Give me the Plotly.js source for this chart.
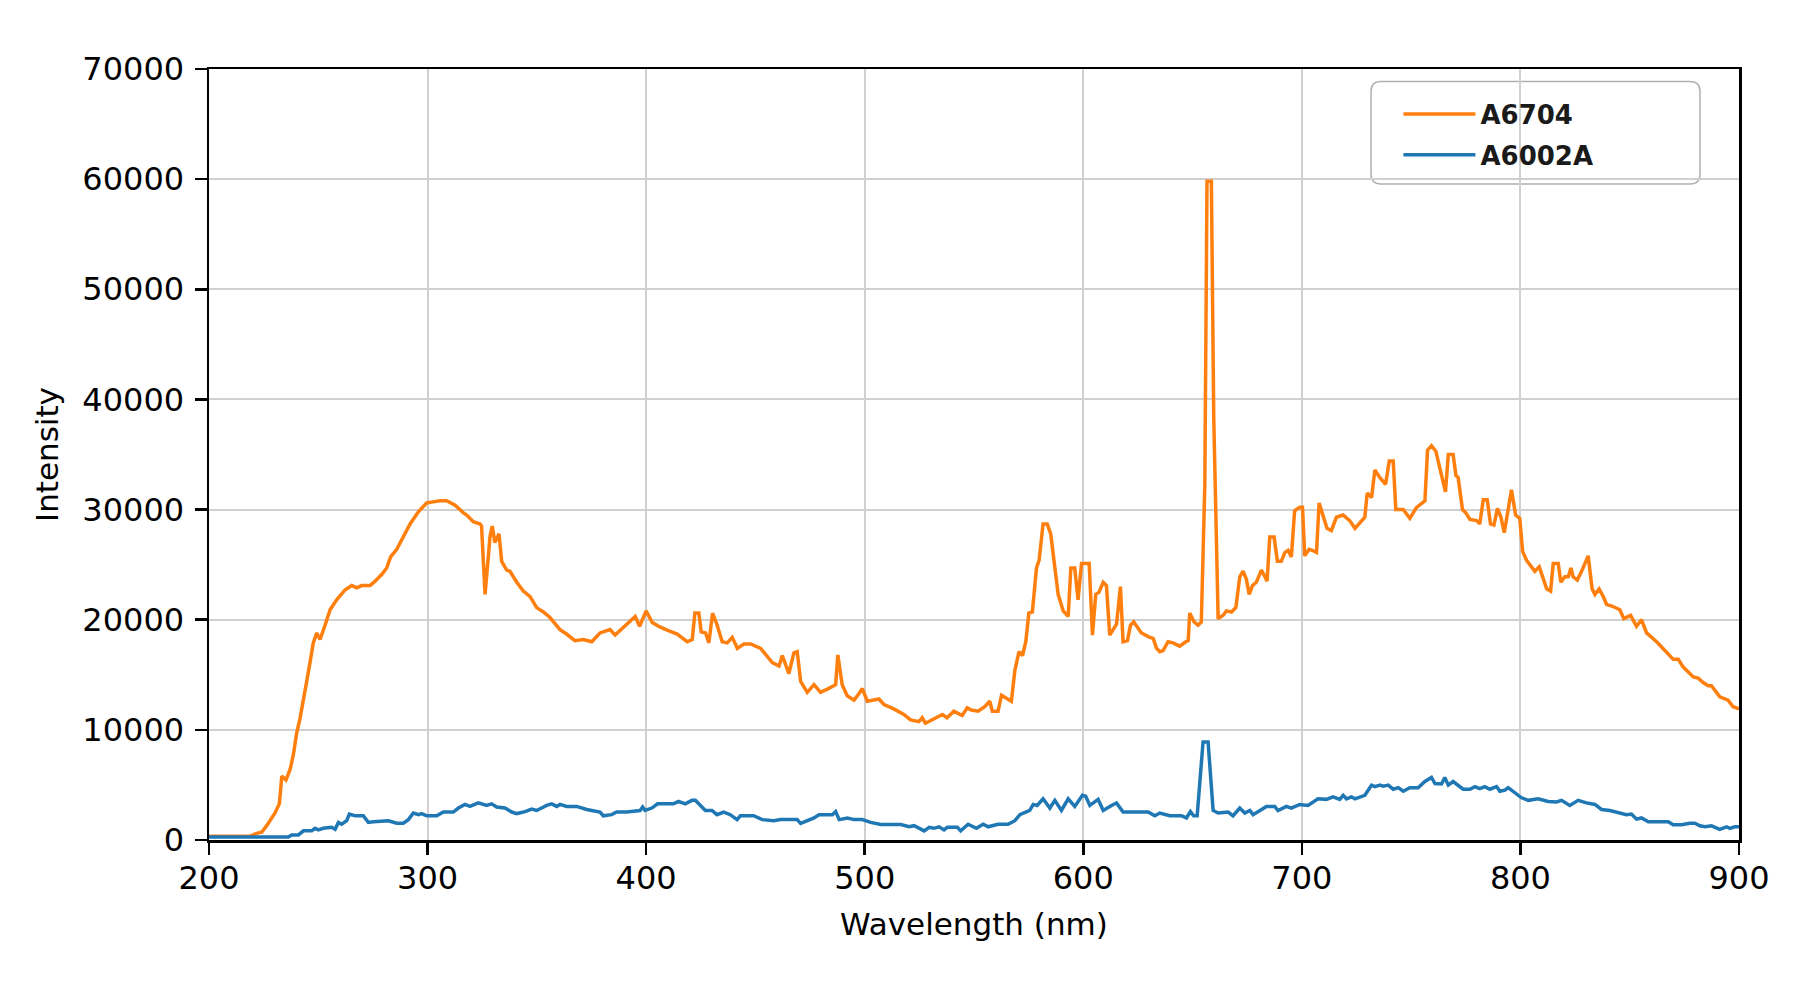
<!DOCTYPE html>
<html>
<head>
<meta charset="utf-8">
<script src="https://cdn.plot.ly/plotly-3.0.1.min.js"></script>
<style>
  html, body { margin: 0; padding: 0; background: #ffffff; }
  #chart { width: 1800px; height: 1000px; }
</style>
</head>
<body>
<div id="chart"></div>
<script>
// ---- Data ----
const seriesNames = ["A6704", "A6002A"];

const wavelengthA6704 = [
  200, 210, 218.8, 221.8, 224.1, 226.4, 230.2, 232.2, 233.3, 235.2, 237.1, 238.6, 240.1, 241.6, 243.2, 244.7,
  246.2, 247.7, 249.3, 250.8, 253.1, 255.4, 258.4, 262.2, 265.3, 267.6, 269.9, 273.7, 276, 279, 281.3, 283.1,
  285.9, 288.9, 292, 295.8, 299.6, 302.6, 305.7, 308.7, 312.6, 316.4, 317.9, 320.9, 324, 324.7, 326.3, 328.6,
  329.6, 330.8, 332.7, 333.9, 336.2, 337.7, 340.8, 343.8, 346.9, 349.9, 353, 356, 358.3, 360.6, 363.6, 367.4,
  371.3, 375.1, 378.9, 383.5, 385.8, 389.7, 395, 397, 400, 402.8, 405.8, 409.6, 414.2, 418.8, 421.1, 422.3,
  424.1, 425.2, 427.2, 428.7, 430.4, 432.5, 434.8, 437.1, 439.4, 441.7, 444.7, 447.8, 452.4, 457.7, 460.8, 462.3,
  465.3, 467.6, 469.1, 470.7, 473.7, 476.8, 479.8, 482.9, 486.7, 487.7, 489.7, 492, 495.1, 497.4, 498.9, 501.2,
  504.2, 506.5, 508.8, 513.3, 517.9, 521, 524.8, 526.3, 527.8, 531.7, 535.5, 537.7, 540.8, 544.6, 546.9, 548.8,
  551.9, 554.9, 557.2, 558.4, 561, 562.6, 567.1, 568.7, 570.6, 572.2, 573.7, 575.1, 576.7, 578.6, 579.8, 581.6,
  583.5, 585.1, 587, 588.5, 590.8, 593.1, 594.3, 596.1, 597.6, 599.2, 602.7, 604.2, 605.7, 607.2, 609.1, 610.6,
  612.1, 615.2, 617, 618.2, 620.2, 621.6, 623.1, 626.6, 630.4, 632, 633.5, 635, 636.5, 638.8, 641.1, 644.1,
  646.9, 648, 648.7, 650.7, 652.5, 654, 655.6, 656.6, 658.6, 659.7, 661.7, 664, 665.5, 667.8, 669.8, 671.6,
  673.1, 674.6, 675.9, 677.4, 679.2, 681.5, 682.6, 684.1, 685.3, 687.3, 688.8, 690.6, 692.2, 693.7, 695.2, 696.7,
  699, 700.3, 701.3, 703.3, 704.8, 706.7, 707.9, 709.7, 711.5, 713.5, 715.8, 718.9, 721.9, 724.3, 728.8, 729.9,
  731.9, 733.4, 735.7, 738.3, 740, 741.8, 743, 746.4, 749.4, 752.5, 756.3, 757.5, 759.3, 761.3, 763.5, 765.7,
  767, 769.2, 770.5, 771.5, 773.5, 775, 776.9, 779.9, 781.4, 783, 784.8, 786.3, 787.9, 789.5, 791.1, 792.6,
  795.9, 797.8, 799.7, 801, 802.8, 805.1, 806.6, 808.6, 810.7, 812, 813.8, 815, 817.3, 818.5, 820.3, 821.9,
  823.1, 824.1, 826, 828, 831, 832.8, 834.1, 836, 837.9, 839.4, 842.4, 845.5, 847.3, 850.4, 853.1, 855.4,
  857.7, 862.3, 866.1, 869.9, 872.2, 874.5, 879.1, 881.3, 883.6, 885.9, 887.4, 891.2, 895, 897.3, 900
];
const intensityA6704 = [
  350, 350, 350, 600, 700, 1300, 2450, 3300, 5800, 5450, 6400, 7750, 9700, 11000, 12600, 14400,
  16100, 17900, 18800, 18200, 19500, 20900, 21800, 22700, 23100, 22900, 23100, 23100, 23500, 24100, 24700, 25700,
  26400, 27600, 28700, 29800, 30600, 30700, 30800, 30800, 30400, 29700, 29500, 28900, 28700, 28500, 22300, 27600,
  28500, 27000, 27800, 25300, 24500, 24400, 23400, 22600, 22100, 21100, 20700, 20200, 19600, 19100, 18700, 18100,
  18200, 18000, 18800, 19100, 18600, 19300, 20300, 19400, 20800, 19750, 19400, 19060, 18700, 18000, 18200, 20600,
  20600, 18900, 18800, 17900, 20600, 19500, 18000, 17900, 18400, 17400, 17800, 17800, 17400, 16100, 15800, 16750,
  15100, 17000, 17100, 14400, 13400, 14100, 13400, 13700, 14100, 16800, 14100, 13100, 12700, 13300, 13750, 12600,
  12700, 12800, 12300, 11900, 11400, 10900, 10750, 11100, 10600, 11000, 11400, 11100, 11700, 11300, 12000, 11800,
  11700, 12100, 12600, 11700, 11700, 13150, 12600, 15400, 17100, 16750, 18000, 20600, 20700, 24700, 25400, 28700,
  28700, 27800, 24800, 22300, 20800, 20300, 24700, 24700, 21800, 25100, 25100, 18600, 22300, 22500, 23400, 23100,
  18600, 19600, 23000, 18000, 18100, 19500, 19800, 18800, 18400, 18300, 17400, 17100, 17200, 18000, 17900, 17600,
  18000, 18100, 20600, 19800, 19500, 19800, 32200, 59800, 59800, 38200, 20100, 20400, 20800, 20700, 21100, 23900,
  24400, 23700, 22300, 23100, 23400, 24500, 24100, 23500, 27500, 27500, 25300, 25300, 26100, 26300, 25700, 29900,
  30200, 30200, 25800, 26400, 26300, 26100, 30600, 29400, 28300, 28100, 29300, 29500, 29000, 28300, 29300, 31500,
  31100, 33600, 32900, 32300, 34400, 34400, 30000, 30000, 29200, 30200, 30800, 35400, 35800, 35300, 33400, 31600,
  35000, 35000, 33100, 32900, 30000, 29700, 29100, 29000, 28700, 30900, 30900, 28700, 28600, 30100, 29300, 27900,
  31800, 29500, 29200, 26200, 25400, 24800, 24400, 24800, 23400, 22800, 22600, 25100, 25100, 23400, 23900, 23900,
  24700, 23900, 23600, 24400, 25800, 22800, 22300, 22800, 22100, 21400, 21200, 20900, 20100, 20400, 19400, 20000,
  18800, 18000, 17200, 16400, 16400, 15700, 14800, 14700, 14300, 14000, 14000, 13000, 12700, 12100, 11900
];

const wavelengthA6002A = [
  200, 215, 230, 236.3, 237.8, 240.9, 243.2, 247, 248.5, 250, 252.3, 256.1, 257.7, 259.2, 260.7, 263,
  264.2, 266.8, 270.6, 272.9, 275.2, 282.1, 285.9, 288.9, 291.2, 293.5, 295.8, 297.3, 299.6, 304.2, 307.2, 311.8,
  314.1, 317.1, 319.4, 323.2, 327, 329.3, 331.6, 335.4, 338.5, 340.8, 344.6, 347.6, 349.9, 354.5, 356.8, 359.1,
  360.6, 363.6, 368.2, 372.8, 378.9, 380.4, 384.2, 386.5, 391.1, 397.2, 398.4, 399.5, 402.6, 405.2, 412.5, 414.8,
  417.9, 421, 422.5, 427.1, 430.1, 432.4, 435.5, 438.5, 441.6, 443.1, 449.2, 453.1, 458.4, 461.5, 466.1, 469.1,
  470.7, 476.8, 479.1, 485.2, 486.7, 488.3, 492.1, 495.1, 498.9, 502.7, 507.3, 516.5, 520.3, 522.6, 527.2, 529.5,
  531.7, 534, 536.3, 537.8, 542.4, 543.9, 547.3, 551.1, 554.2, 556.5, 561, 565.6, 568.7, 571, 575.5, 577.1,
  578.9, 581.6, 584.7, 587, 590, 593.1, 596.1, 599.6, 601.1, 603, 606.8, 609.1, 612.9, 615.2, 618.2, 622.8,
  629.7, 632.7, 635, 639.6, 644.9, 647.2, 649, 650.5, 652.1, 654.8, 657.1, 659.4, 661.7, 666.3, 668.5, 671.6,
  673.9, 676.2, 677.7, 683.8, 687.6, 689.1, 692.9, 695.2, 699, 702.8, 707.4, 711.2, 714.3, 717.3, 718.9, 720.4,
  722.7, 724.3, 728.8, 731.9, 733.4, 735.7, 737.2, 739.5, 741.8, 744.1, 746.4, 749.4, 753.2, 756.3, 759.3, 760.9,
  763.9, 765.4, 767, 769.2, 771.5, 773.8, 776.9, 779.2, 781.4, 783.7, 786, 789.1, 790.6, 792.9, 794.4, 797.4,
  800.5, 803.6, 808.1, 812.7, 816.5, 818.8, 822.6, 826.4, 830.2, 834.1, 837.1, 840.9, 843.2, 845.5, 848.5, 850.8,
  853.1, 855.4, 858.5, 867.6, 869.9, 873.7, 877.5, 879.8, 882.1, 884.4, 887.4, 891.2, 894.3, 895.8, 898.1, 900
];
const intensityA6002A = [
  280, 280, 280, 280, 460, 460, 830, 830, 1060, 920, 1060, 1150, 970, 1600, 1430, 1750,
  2350, 2200, 2200, 1600, 1660, 1750, 1520, 1520, 1850, 2450, 2300, 2400, 2200, 2200, 2540, 2540,
  2900, 3230, 3050, 3370, 3140, 3280, 3000, 2900, 2540, 2400, 2580, 2800, 2680, 3140, 3280, 3050,
  3230, 3050, 3050, 2770, 2540, 2200, 2300, 2540, 2540, 2680, 3000, 2680, 2900, 3280, 3280, 3500,
  3280, 3600, 3600, 2680, 2680, 2300, 2540, 2300, 1850, 2200, 2200, 1850, 1750, 1850, 1850, 1850,
  1500, 2000, 2300, 2300, 2580, 1850, 2000, 1850, 1850, 1600, 1400, 1400, 1200, 1300, 830, 1150,
  1060, 1200, 920, 1150, 1150, 830, 1430, 1060, 1430, 1200, 1430, 1430, 1750, 2300, 2680, 3230,
  3140, 3740, 2900, 3600, 2680, 3740, 3050, 4060, 3970, 3140, 3690, 2680, 3140, 3370, 2540, 2540,
  2540, 2200, 2450, 2200, 2200, 2000, 2580, 2200, 2200, 8900, 8900, 2680, 2450, 2540, 2200, 2900,
  2450, 2680, 2300, 3050, 3050, 2680, 3050, 2900, 3230, 3140, 3740, 3690, 3920, 3690, 4060, 3740,
  3920, 3740, 4060, 4980, 4850, 4980, 4890, 4980, 4610, 4750, 4430, 4750, 4750, 5310, 5680, 5120,
  5080, 5680, 4980, 5310, 4980, 4610, 4610, 4850, 4660, 4850, 4610, 4850, 4430, 4520, 4750, 4290,
  3830, 3600, 3740, 3500, 3460, 3600, 3140, 3600, 3370, 3230, 2770, 2680, 2540, 2450, 2300, 2350,
  1890, 2000, 1660, 1660, 1380, 1380, 1520, 1520, 1290, 1200, 1290, 970, 1200, 1060, 1200, 1200
];

const xTickValues = [200, 300, 400, 500, 600, 700, 800, 900];
const yTickValues = [0, 10000, 20000, 30000, 40000, 50000, 60000, 70000];
const xTitle = "Wavelength (nm)";
const yTitle = "Intensity";

// ---- Traces ----
const traces = [
  {
    x: wavelengthA6704, y: intensityA6704, name: seriesNames[0],
    type: "scatter", mode: "lines", legendgroup: "a",
    line: { color: "#ff7f0e", width: 3.5 }
  },
  {
    x: wavelengthA6002A, y: intensityA6002A, name: seriesNames[1],
    type: "scatter", mode: "lines", legendgroup: "b",
    line: { color: "#1f77b4", width: 3.5 }
  }
];

const FONT = "DejaVu Sans, Liberation Sans, sans-serif";

const axisCommon = {
  showline: true, linecolor: "#000000", linewidth: 2.5, mirror: true,
  ticks: "outside", ticklen: 12, tickwidth: 2.5, tickcolor: "#000000",
  showgrid: true, gridcolor: "#d0d0d0", gridwidth: 2,
  zeroline: false,
  tickfont: { family: FONT, size: 32, color: "#000000" }
};

const layout = {
  width: 1800, height: 1000,
  paper_bgcolor: "#ffffff", plot_bgcolor: "#ffffff",
  margin: { l: 209, r: 61, t: 69, b: 160, autoexpand: false },
  font: { family: FONT, color: "#000000" },
  xaxis: Object.assign({}, axisCommon, {
    range: [200, 900], tickmode: "array", tickvals: xTickValues,
    ticktext: xTickValues.map(String),
    ticklabelstandoff: -4,
    title: { text: xTitle, font: { family: FONT, size: 31, color: "#000000" }, standoff: 18 },
    automargin: false
  }),
  yaxis: Object.assign({}, axisCommon, {
    range: [0, 70000], tickmode: "array", tickvals: yTickValues,
    ticktext: yTickValues.map(String),
    ticklabelstandoff: 4,
    title: { text: yTitle, font: { family: FONT, size: 31, color: "#000000" }, standoff: 15 },
    automargin: false
  }),
  showlegend: true,
  legend: {
    x: 0.7774, y: 0.972, xanchor: "left", yanchor: "top",
    bgcolor: "rgba(0,0,0,0)", borderwidth: 0,
    font: { family: FONT, size: 26, color: "#1a1a1a", weight: "bold" },
    itemwidth: 72, traceorder: "grouped", tracegroupgap: 4
  },
  shapes: [
    {
      type: "path", xref: "paper", yref: "paper", layer: "between",
      path: "M 0.7660 0.9838 L 0.9680 0.9838 Q 0.9745 0.9838 0.9745 0.9708 L 0.9745 0.8638 Q 0.9745 0.8508 0.9680 0.8508 L 0.7660 0.8508 Q 0.7595 0.8508 0.7595 0.8638 L 0.7595 0.9708 Q 0.7595 0.9838 0.7660 0.9838 Z",
      fillcolor: "#ffffff", line: { color: "#b0b0b0", width: 1.5 }
    }
  ]
};

Plotly.newPlot("chart", traces, layout, { displayModeBar: false, staticPlot: true });
</script>
</body>
</html>
